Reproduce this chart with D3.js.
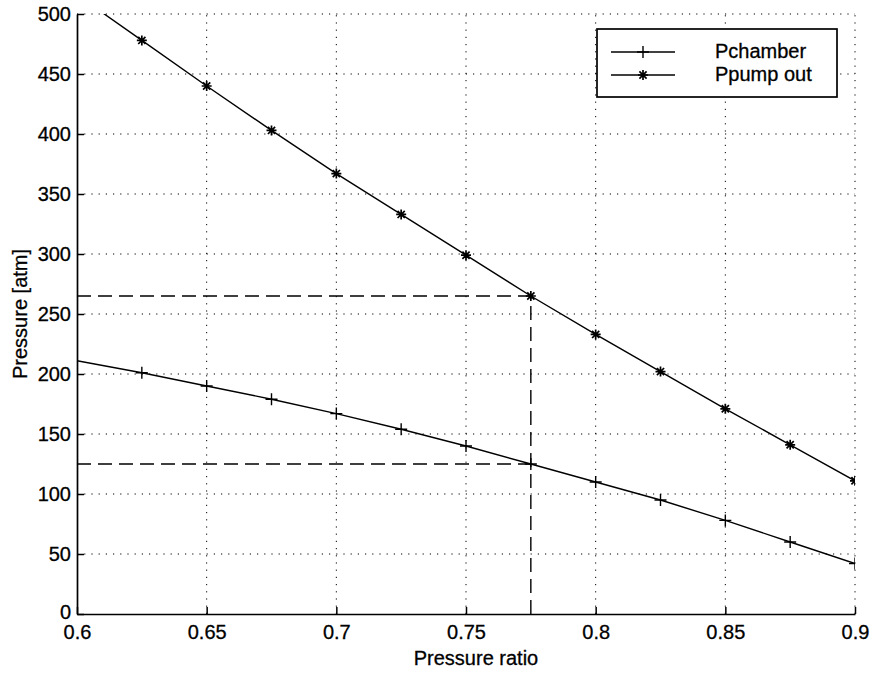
<!DOCTYPE html>
<html lang="en">
<head>
<meta charset="UTF-8" />
<title>Pressure vs pressure ratio</title>
<style>
  body { margin: 0; background: #fff; }
  svg text { font-family: "Liberation Sans", Arial, sans-serif; fill: #000; }
</style>
</head>
<body>
<svg id="chart" width="873" height="673"></svg>
<script src="https://cdn.jsdelivr.net/npm/d3@7"></script>
<script>
const ratios = [0.6, 0.625, 0.65, 0.675, 0.7, 0.725, 0.75, 0.775, 0.8, 0.825, 0.85, 0.875, 0.9];
const pChamber = [211, 201, 190, 179, 167, 154, 140, 125, 110, 95, 78, 60, 42];
const pPumpOut = [516, 478, 440, 403, 367, 333, 299, 265, 233, 202, 171, 141, 111];
const xTicks = [0.6, 0.65, 0.7, 0.75, 0.8, 0.85, 0.9];
const yTicks = [0, 50, 100, 150, 200, 250, 300, 350, 400, 450, 500];
const designRatio = 0.775;
const designChamber = 125;
const designPump = 265;

const svg = d3.select('#chart');
const margin = { left: 77, right: 18, top: 14, bottom: 59 };
const width = 873, height = 673;
const fontSize = 20;

const x = d3.scaleLinear().domain([0.6, 0.9]).range([margin.left, width - margin.right]);
const y = d3.scaleLinear().domain([0, 500]).range([height - margin.bottom, margin.top]);

svg.append('clipPath').attr('id', 'clip')
  .append('rect')
  .attr('x', x(0.6)).attr('y', y(500))
  .attr('width', x(0.9) - x(0.6)).attr('height', y(0) - y(500));

// dotted grid
const grid = svg.append('g').attr('stroke', '#000').attr('stroke-width', 1)
  .attr('stroke-dasharray', '1.2,6');
grid.selectAll('.gx').data(xTicks.slice(1)).enter().append('line')
  .attr('x1', d => x(d)).attr('x2', d => x(d))
  .attr('y1', y(0)).attr('y2', y(500));
grid.selectAll('.gy').data(yTicks.slice(1)).enter().append('line')
  .attr('x1', x(0.6)).attr('x2', x(0.9))
  .attr('y1', d => y(d)).attr('y2', d => y(d));

// axes
const xAxis = svg.append('g').attr('transform', `translate(0,${y(0)})`)
  .call(d3.axisBottom(x).tickValues(xTicks).tickSizeInner(-7).tickSizeOuter(0).tickPadding(14)
    .tickFormat(d => d3.format('')(+d.toFixed(2))));
const yAxis = svg.append('g').attr('transform', `translate(${x(0.6)},0)`)
  .call(d3.axisLeft(y).tickValues(yTicks).tickSizeInner(-7).tickSizeOuter(0).tickPadding(6));
[xAxis, yAxis].forEach(a => {
  a.select('.domain').attr('stroke', '#000').attr('stroke-width', 1.7);
  a.selectAll('.tick line').attr('stroke', '#000').attr('stroke-width', 1.5);
  a.selectAll('text').attr('font-size', fontSize)
    .attr('font-family', '"Liberation Sans", Arial, sans-serif')
    .attr('stroke', '#000').attr('stroke-width', 0.3);
});
xAxis.selectAll('text').attr('dy', '0.55em');
yAxis.selectAll('.tick').filter(d => d === 0).select('text').attr('dy', '0.2em');

// dashed design-point lines
const dash = svg.append('g').attr('stroke', '#000').attr('stroke-width', 1.4)
  .attr('stroke-dasharray', '14,7').attr('fill', 'none');
dash.append('line').attr('x1', x(0.6)).attr('x2', x(designRatio))
  .attr('y1', y(designPump)).attr('y2', y(designPump));
dash.append('line').attr('x1', x(0.6)).attr('x2', x(designRatio))
  .attr('y1', y(designChamber)).attr('y2', y(designChamber));
dash.append('line').attr('x1', x(designRatio)).attr('x2', x(designRatio))
  .attr('y1', y(0)).attr('y2', y(designPump));

// series
const line = d3.line().x(d => x(d[0])).y(d => y(d[1]));
const plot = svg.append('g').attr('clip-path', 'url(#clip)');
const chamberPts = ratios.map((r, i) => [r, pChamber[i]]);
const pumpPts = ratios.map((r, i) => [r, pPumpOut[i]]);

plot.append('path').datum(chamberPts).attr('d', line)
  .attr('fill', 'none').attr('stroke', '#000').attr('stroke-width', 1.4);
plot.append('path').datum(pumpPts).attr('d', line)
  .attr('fill', 'none').attr('stroke', '#000').attr('stroke-width', 1.4);

const plusPath = 'M-6,0H6M0,-6V6';
const starPath = 'M-5,0H5M0,-5V5M-3.6,-3.6L3.6,3.6M-3.6,3.6L3.6,-3.6';

plot.selectAll('.pc').data(chamberPts.filter(d => d[0] > 0.6)).enter().append('path')
  .attr('transform', d => `translate(${x(d[0])},${y(d[1])})`)
  .attr('d', plusPath).attr('stroke', '#000').attr('stroke-width', 1.4);
plot.selectAll('.pp').data(pumpPts.filter(d => d[1] <= 500)).enter().append('path')
  .attr('transform', d => `translate(${x(d[0])},${y(d[1])})`)
  .attr('d', starPath).attr('stroke', '#000').attr('stroke-width', 1.7);

// legend
const lg = svg.append('g');
lg.append('rect').attr('x', 597).attr('y', 29).attr('width', 240).attr('height', 68)
  .attr('fill', '#fff').attr('stroke', '#000').attr('stroke-width', 1.7);
const legendItems = [
  { name: 'Pchamber', marker: plusPath, w: 1.4 },
  { name: 'Ppump out', marker: starPath, w: 1.7 }
];
legendItems.forEach((it, i) => {
  const ly = 52 + i * 23;
  lg.append('line').attr('x1', 611).attr('x2', 675).attr('y1', ly).attr('y2', ly)
    .attr('stroke', '#000').attr('stroke-width', 1.4);
  lg.append('path').attr('transform', `translate(643,${ly})`).attr('d', it.marker)
    .attr('stroke', '#000').attr('stroke-width', it.w);
  lg.append('text').attr('x', 715).attr('y', ly + 6).attr('font-size', fontSize)
    .attr('stroke', '#000').attr('stroke-width', 0.3).text(it.name);
});

// axis titles
svg.append('text').attr('x', (x(0.6) + x(0.9)) / 2 + 10).attr('y', 665)
  .attr('text-anchor', 'middle').attr('font-size', fontSize)
  .attr('stroke', '#000').attr('stroke-width', 0.3).text('Pressure ratio');
svg.append('text').attr('transform', `translate(27,${(y(0) + y(500)) / 2}) rotate(-90)`)
  .attr('text-anchor', 'middle').attr('font-size', fontSize)
  .attr('stroke', '#000').attr('stroke-width', 0.3).text('Pressure [atm]');
</script>
</body>
</html>
